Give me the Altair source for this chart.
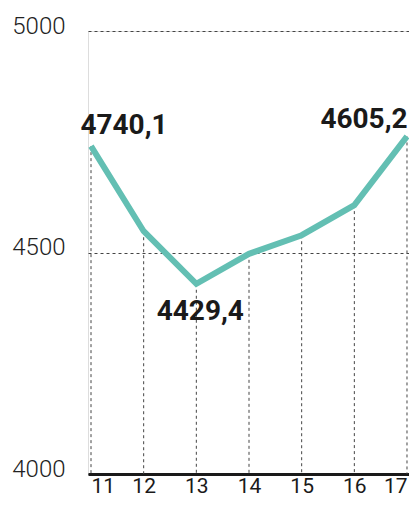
import altair as alt
import pandas as pd

years = [11, 12, 13, 14, 15, 16, 17]
values = [4740.1, 4548, 4429.4, 4497, 4539, 4607, 4762]
label_years = [11, 13, 17]
label_texts = ["4740,1", "4429,4", "4605,2"]

df = pd.DataFrame({"year": years, "value": values})
lab = pd.DataFrame({"year": label_years,
                    "value": [values[years.index(y)] for y in label_years],
                    "text": label_texts})

xs = alt.Scale(domain=[10.943, 17.038], nice=False, zero=False)
ys = alt.Scale(domain=[4000, 5000], nice=False, zero=False)

base = alt.Chart(df)

drops = base.mark_rule(color="#444", strokeWidth=1, strokeDash=[3, 3]).encode(
    x=alt.X("year:Q", scale=xs,
            axis=alt.Axis(values=years, title=None, grid=False, ticks=False,
                          domain=True, domainColor="#1a1a1a", domainWidth=3,
                          labelFontSize=21, labelColor="#1a1a1a", labelFont="Roboto",
                          labelPadding=1, format="d", labelFlush=6)),
    y=alt.Y("value:Q", scale=ys,
            axis=alt.Axis(values=[4000, 4500, 5000], title=None, ticks=False,
                          domain=False, grid=True, gridColor="#444",
                          gridDash=[3, 3], gridWidth=1, format="d",
                          labelFontSize=24, labelColor="#222", labelFont="Roboto",
                          labelFontWeight=300, labelPadding=23, labelOffset=-5)),
    y2=alt.datum(4000),
)

line = base.mark_line(color="#63bfb3", strokeWidth=6, strokeJoin="miter").encode(
    x=alt.X("year:Q", scale=xs),
    y=alt.Y("value:Q", scale=ys),
)

def label_layer(yr, dx, dy):
    return alt.Chart(lab).transform_filter(alt.datum.year == yr).mark_text(
        font="Roboto", fontSize=28, fontWeight="bold", color="#1a1a1a",
        dx=dx, dy=dy, align="center", baseline="alphabetic"
    ).encode(
        x=alt.X("year:Q", scale=xs),
        y=alt.Y("value:Q", scale=ys),
        text="text:N",
    )

chart = alt.layer(
    drops, line,
    label_layer(11, 33, -12),
    label_layer(13, 4, 36),
    label_layer(17, -43, -8),
).properties(
    width=321, height=443,
    padding={"left": 80, "top": 23, "right": 0, "bottom": 24},
    autosize=alt.AutoSizeParams(type="none"),
).configure_view(stroke=None).configure(background="white")

chart.save("out.html", embed_options={"renderer": "svg", "actions": False})
